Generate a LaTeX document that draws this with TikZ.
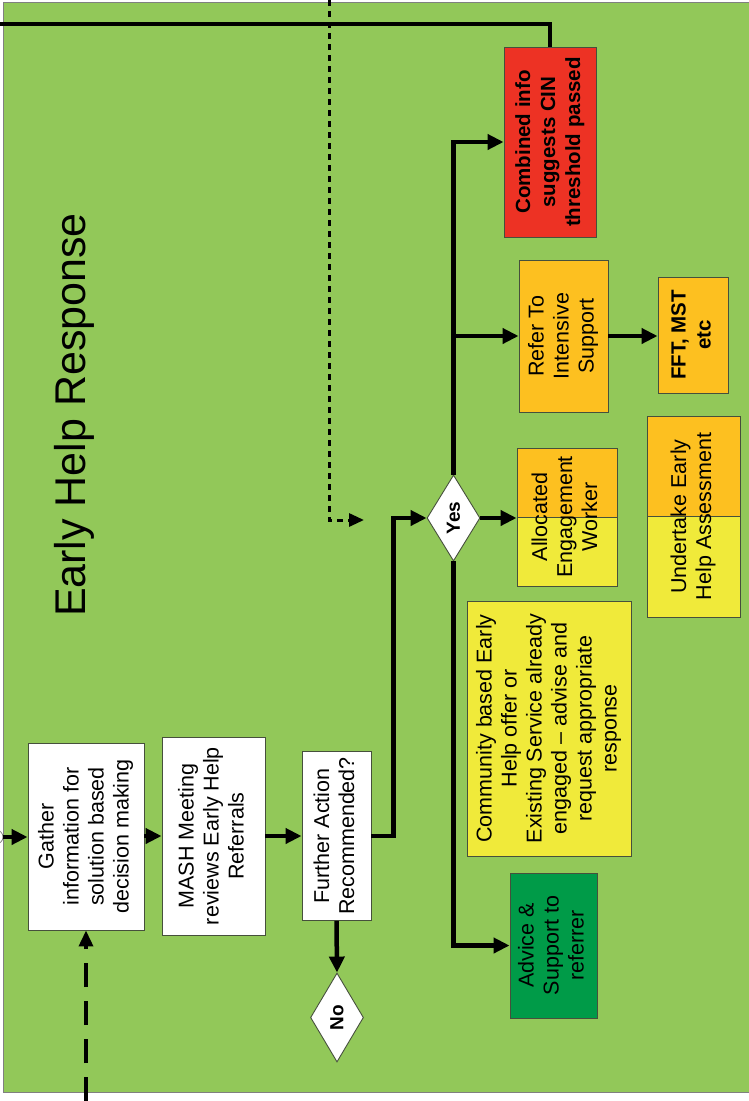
\documentclass[tikz,border=0pt]{standalone}
\usepackage{fontspec}
\usepackage{graphicx}
\setmainfont{Liberation Sans}
\usetikzlibrary{shapes.geometric,arrows.meta,calc}
\definecolor{bgG}{RGB}{146,200,89}
\definecolor{orgC}{RGB}{253,192,32}
\definecolor{ylwC}{RGB}{240,234,58}
\definecolor{redC}{RGB}{237,50,36}
\definecolor{dgrC}{RGB}{0,155,72}
\definecolor{boxline}{RGB}{70,80,60}
\newcommand{\vtxt}[1]{\rotatebox{90}{\begin{tabular}{@{}c@{}}#1\end{tabular}}}
\begin{document}
\begin{tikzpicture}[x=1pt,y=-1pt,
  box/.style={draw=boxline, line width=0.9pt, inner sep=0pt, font=\fontsize{21.5}{25}\selectfont},
  bbox/.style={box, font=\fontsize{20.5}{25}\selectfont\bfseries},
  dia/.style={diamond, draw=boxline, line width=0.9pt, fill=white, inner sep=0pt, font=\fontsize{19}{22}\selectfont\bfseries},
  split/.style={path picture={
      \fill[orgC] (path picture bounding box.north west) rectangle (path picture bounding box.east);
      \draw[boxline, line width=0.6pt] (path picture bounding box.west) -- (path picture bounding box.east);}},
  arr/.style={line width=4.5pt, -{Triangle[length=16pt,width=15pt]}},
  line/.style={line width=4.5pt}]
\useasboundingbox (0,0) rectangle (748,1101);
\fill[white] (0,0) rectangle (748,1101);
\draw[fill=bgG, draw=gray, line width=0.8pt] (3,2) rectangle (750,1092);

\node[font=\fontsize{43}{50}\selectfont] (title) at (74,415) {\rotatebox{90}{Early Help Response}};

\node[box, fill=white, minimum width=116pt, minimum height=187pt] (gather) at (86,836.5)
  {\vtxt{Gather\\information for\\solution based\\decision making}};
\node[box, fill=white, minimum width=103pt, minimum height=198pt] (mash) at (213.5,836)
  {\vtxt{MASH Meeting\\reviews Early Help\\Referrals}};
\node[box, fill=white, minimum width=69pt, minimum height=169pt] (further) at (336.5,836)
  {\vtxt{Further Action\\Recommended?}};
\node[dia, minimum width=53pt, minimum height=89pt] (no) at (337,1017.5) {\rotatebox{90}{No}};
\node[dia, minimum width=53pt, minimum height=86pt] (yes) at (453.5,518) {\rotatebox{90}{Yes}};

\node[bbox, fill=redC, minimum width=92pt, minimum height=190pt] (red) at (550,142)
  {\vtxt{Combined info\\suggests CIN\\threshold passed}};
\node[box, fill=orgC, minimum width=89pt, minimum height=152pt] (refer) at (563.5,336)
  {\vtxt{Refer To\\Intensive\\Support}};
\node[bbox, fill=orgC, minimum width=70pt, minimum height=116pt] (fft) at (693,335)
  {\vtxt{FFT, MST\\etc}};
\node[box, fill=ylwC, split, minimum width=100pt, minimum height=138pt] (alloc) at (567,517)
  {\vtxt{Allocated\\Engagement\\Worker}};
\node[box, fill=ylwC, split, minimum width=93pt, minimum height=201pt] (undertake) at (693.5,516.5)
  {\vtxt{Undertake Early\\Help Assessment}};
\node[box, fill=ylwC, minimum width=164pt, minimum height=255pt] (community) at (549,728.5)
  {\vtxt{Community based Early\\Help offer or\\Existing Service already\\engaged -- advise and\\request appropriate\\response}};
\node[box, fill=dgrC, minimum width=87pt, minimum height=145pt] (advice) at (553.5,945.5)
  {\vtxt{Advice \&\\Support to\\referrer}};

% entry from left
\node[circle, draw=gray, fill=white, line width=0.8pt, minimum size=14pt, inner sep=0pt] (src) at (-4,837) {};
\draw[arr] (src.east) -- (gather.west |- src.east);
\draw[arr] (gather.east |- mash.west) -- (mash.west);
\draw[arr] (mash.east) -- (further.west |- mash.east);
\draw[arr] (further.east) -- ++(22,0) |- (yes.west);
\draw[arr] (further.south) -- (no.north);
\draw[arr] (yes.north) |- (red.west);
\draw[arr] (yes.north |- refer.west) -- (refer.west);
\draw[arr] (yes.east) -- (alloc.west |- yes.east);
\draw[arr] (yes.south) |- (advice.west);
\draw[arr] (refer.east) -- (fft.west |- refer.east);

% top return line
\coordinate (ltop) at (0,24);
\draw[line] (red.north) |- (ltop);

% dotted arrow from top
\coordinate (dtop) at (329,0);
\coordinate (dend) at (364,520);
\draw[line width=3pt, dash pattern=on 6pt off 5pt, -{Triangle[length=15pt,width=13pt]}] (dtop) |- (dend);

% dashed arrow from bottom
\coordinate (dbot) at (86,1101);
\draw[line width=3.5pt, dash pattern=on 24pt off 14pt, -{Triangle[length=16pt,width=14pt]}] (dbot) -- (gather.south);
\end{tikzpicture}
\end{document}
